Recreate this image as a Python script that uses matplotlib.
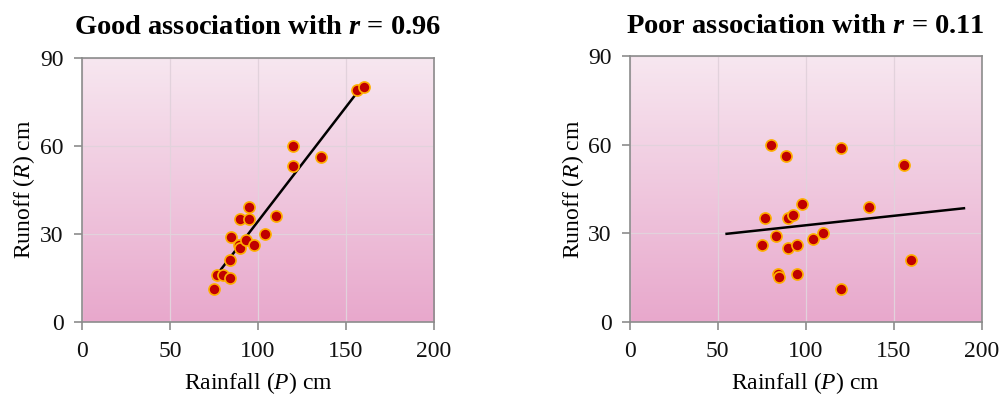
import numpy as np
import matplotlib
matplotlib.use("Agg")
import matplotlib.pyplot as plt
from matplotlib.colors import LinearSegmentedColormap

plt.rcParams['font.family'] = ['Liberation Serif', 'DejaVu Serif']
plt.rcParams['mathtext.fontset'] = 'custom'
plt.rcParams['mathtext.it'] = 'Liberation Serif:italic'
plt.rcParams['mathtext.bf'] = 'Liberation Serif:bold'
plt.rcParams['mathtext.bfit'] = 'Liberation Serif:italic:bold'
plt.rcParams['mathtext.rm'] = 'Liberation Serif'

# Good association data
good_rain = [75, 77, 80, 84, 84, 85, 89, 90, 90, 93, 95, 95, 98, 104, 110, 120, 120, 136, 156, 160]
good_runoff = [11, 16, 16, 15, 21, 29, 26, 25, 35, 28, 35, 39, 26, 30, 36, 60, 53, 56, 79, 80]
good_fit_range = [75, 159]

# Poor association data
poor_rain = [80, 89, 120, 156, 98, 136, 77, 90, 93, 83, 110, 104, 75, 90, 95, 160, 84, 85, 95, 120]
poor_runoff = [60, 56, 59, 53, 40, 39, 35, 35, 36, 29, 30, 28, 26, 25, 26, 21, 16, 15, 16, 11]
poor_fit_range = [55, 190]

titles = ["Good association with $\\mathbfit{r}$ = 0.96", "Poor association with $\\mathbfit{r}$ = 0.11"]
xticks = [0, 50, 100, 150, 200]
yticks = [0, 30, 60, 90]

cmap = LinearSegmentedColormap.from_list("pinkgrad", ["#e8a8cc", "#f7e7f0"])

fig = plt.figure(figsize=(10.03, 3.96), dpi=100)
axes = [fig.add_axes([0.0815, 0.1876, 0.3513, 0.6667]),
        fig.add_axes([0.628, 0.1876, 0.3506, 0.6707])]

datasets = [(good_rain, good_runoff, good_fit_range), (poor_rain, poor_runoff, poor_fit_range)]

for ax, (xs, ys, fr), title in zip(axes, datasets, titles):
    grad = np.linspace(0, 1, 256).reshape(-1, 1)
    ax.imshow(grad, extent=[0, 1, 0, 1], transform=ax.transAxes, origin='lower',
              cmap=cmap, aspect='auto', zorder=0)
    ax.set_xlim(0, 200)
    ax.set_ylim(0, 90)
    ax.set_xticks(xticks)
    ax.set_yticks(yticks)
    ax.grid(True, color='#e2d2dc', linewidth=0.9, zorder=1)
    ax.set_axisbelow(True)
    slope, intercept = np.polyfit(xs, ys, 1)
    fx = np.array(fr, dtype=float)
    ax.plot(fx, slope * fx + intercept, color='black', linewidth=1.8, zorder=3)
    ax.plot(xs, ys, linestyle='none', marker='o', markersize=8,
            markerfacecolor='#c00000', markeredgecolor='#ffb000', markeredgewidth=1.2, zorder=4)
    for s in ax.spines.values():
        s.set_color('#8c8c8c')
        s.set_linewidth(1.2)
    ax.tick_params(direction='out', length=6, width=1.2, color='#8c8c8c',
                   labelsize=17, labelcolor='#111111')
    ax.tick_params(axis='x', pad=8)
    ax.tick_params(axis='y', pad=7)
    ax.set_xlabel("Rainfall ($\\mathit{P}$) cm", fontsize=17, labelpad=6)
    ax.set_ylabel("Runoff ($\\mathit{R}$) cm", fontsize=17, labelpad=2)
    ax.set_title(title, fontsize=20.5, fontweight='bold', pad=17)

fig.savefig("out.png", dpi=100)
